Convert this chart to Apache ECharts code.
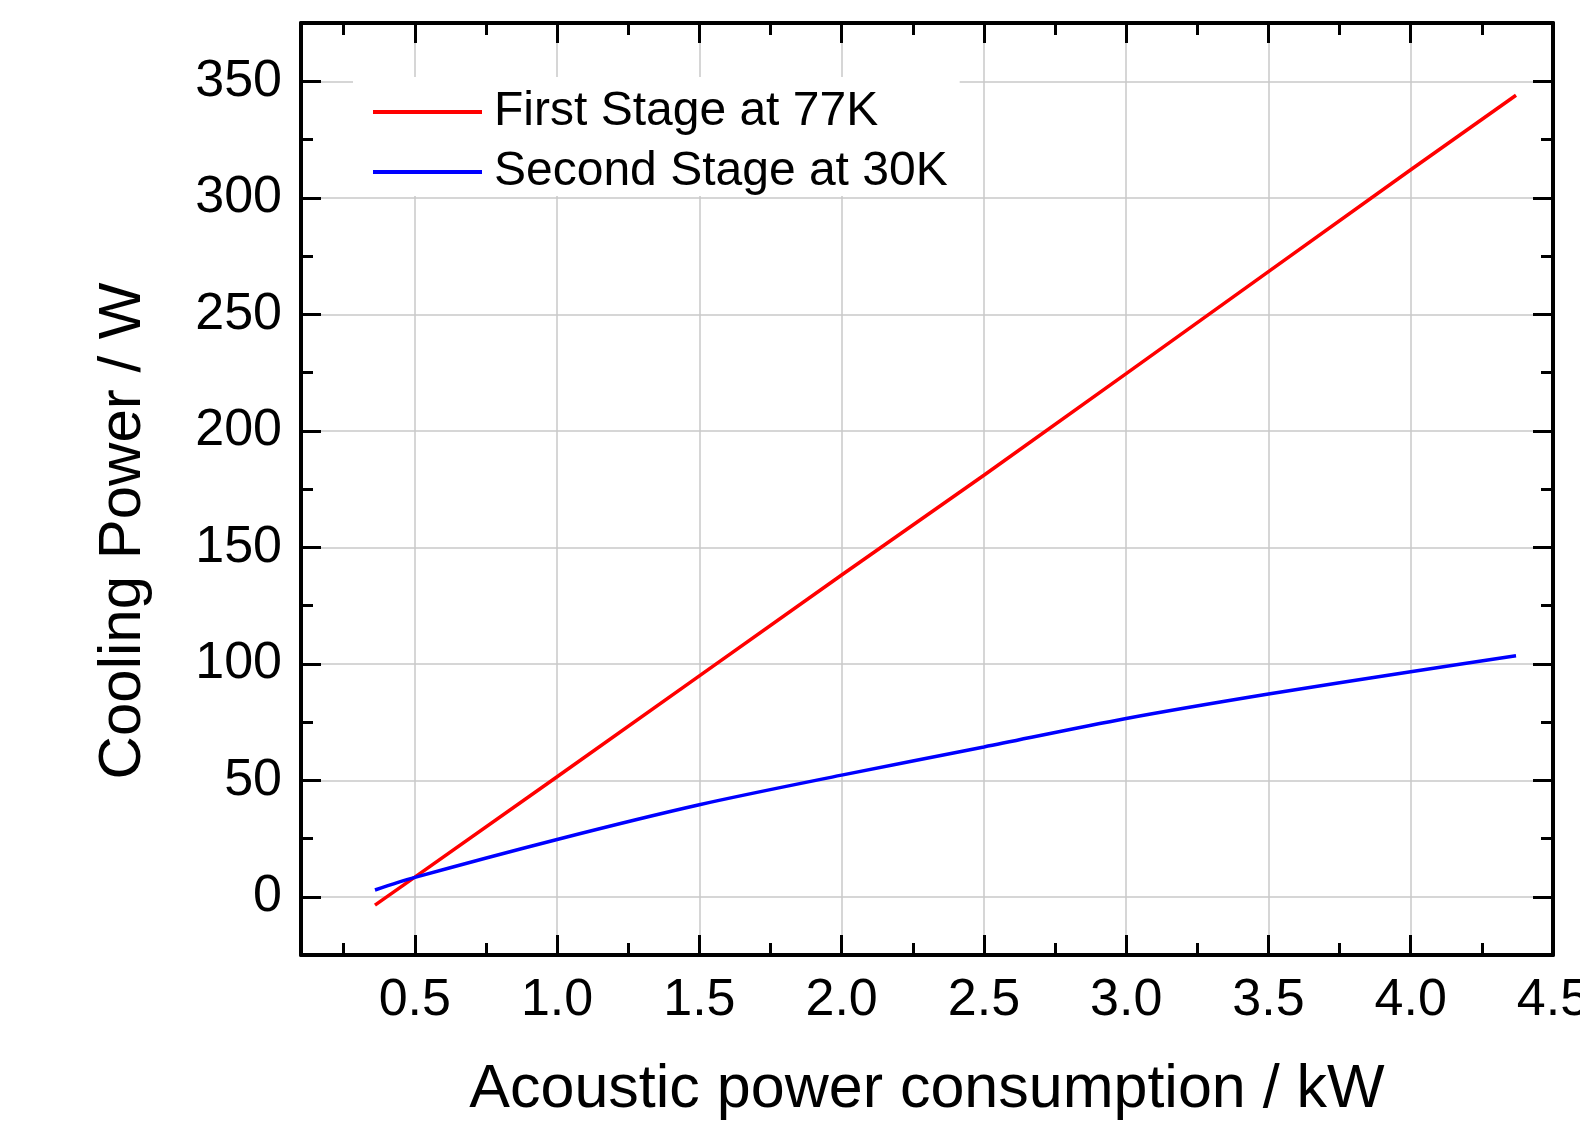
<!DOCTYPE html>
<html><head><meta charset="utf-8">
<script src="https://cdn.jsdelivr.net/npm/echarts@6.0.0/dist/echarts.min.js"></script>
<style>html,body{margin:0;padding:0;background:#fff;overflow:hidden}#c{width:1580px;height:1127px}</style>
</head><body><div id="c"></div>
<script>
// ---- data ----
const powerKW = [0.36, 0.5, 1.0, 1.5, 2.0, 2.5, 3.0, 3.5, 4.0, 4.37];
const firstStage77K = [-3.6, 8.4, 51.5, 94.8, 138.1, 180.9, 224.5, 268.3, 312.0, 344.0];
const secondStage30K = [2.9, 8.3, 24.6, 39.5, 52.2, 64.3, 76.5, 87.0, 96.6, 103.4];
const seriesNames = ['First Stage at 77K', 'Second Stage at 30K'];
const xTitle = 'Acoustic power consumption / kW';
const yTitle = 'Cooling Power / W';

const font = 'Liberation Sans, Arial, sans-serif';
const pairs = (xs, ys) => xs.map((x, i) => [x, ys[i]]);

const tickCommon = {
  axisLine: {show: true, onZero: false, lineStyle: {color: '#000', width: 4}},
  axisTick: {show: true, inside: true, length: 20, lineStyle: {color: '#000', width: 3}},
  minorTick: {show: true, splitNumber: 2, length: 12, lineStyle: {color: '#000', width: 3}}
};
const xBase = {type: 'value', min: 0.1, max: 4.5, splitNumber: 9};
const yBase = {type: 'value', min: -25, max: 375, splitNumber: 8};
const gridLine = {show: true, lineStyle: {color: '#c8c8c8', width: 1.5}};

const chart = echarts.init(document.getElementById('c'));
chart.setOption({
  animation: false,
  backgroundColor: '#fff',
  grid: {left: 301, right: 27, top: 23, bottom: 172, containLabel: false, outerBoundsMode: 'none'},
  legend: {
    orient: 'vertical', left: 353, top: 77, padding: [11, 12, 0, 20],
    backgroundColor: '#fff', itemGap: 12, itemWidth: 109, itemHeight: 4, icon: 'rect',
    textStyle: {fontFamily: font, fontSize: 48, color: '#000', padding: [0, 0, 0, 7]},
    data: seriesNames
  },
  xAxis: [
    Object.assign({}, xBase, tickCommon, {
      position: 'bottom', name: xTitle, nameLocation: 'middle', nameGap: 105,
      nameTextStyle: {fontFamily: font, fontSize: 61, color: '#000'},
      axisLabel: {fontFamily: font, fontSize: 52, color: '#000', margin: 20,
        formatter: v => (v < 0.45 ? '' : v.toFixed(1))},
      splitLine: gridLine
    }),
    Object.assign({}, xBase, tickCommon, {
      position: 'top', axisLabel: {show: false}, splitLine: {show: false}
    })
  ],
  yAxis: [
    Object.assign({}, yBase, tickCommon, {
      position: 'left', name: yTitle, nameLocation: 'middle', nameGap: 148,
      nameTextStyle: {fontFamily: font, fontSize: 60, color: '#000', padding: [0, 84, 0, 0]},
      axisLabel: {fontFamily: font, fontSize: 52, color: '#000', margin: 19,
        formatter: v => (v < 0 || v > 360 ? '' : String(v))},
      splitLine: gridLine
    }),
    Object.assign({}, yBase, tickCommon, {
      position: 'right', axisLabel: {show: false}, splitLine: {show: false}
    })
  ],
  series: [
    {name: seriesNames[0], type: 'line', showSymbol: false, symbol: 'none',
     color: '#ff0000', lineStyle: {color: '#ff0000', width: 3.5},
     data: pairs(powerKW, firstStage77K)},
    {name: seriesNames[1], type: 'line', showSymbol: false, symbol: 'none', smooth: 0.3,
     color: '#0000ff', lineStyle: {color: '#0000ff', width: 3.5},
     data: pairs(powerKW, secondStage30K)}
  ]
});
</script>
</body></html>
